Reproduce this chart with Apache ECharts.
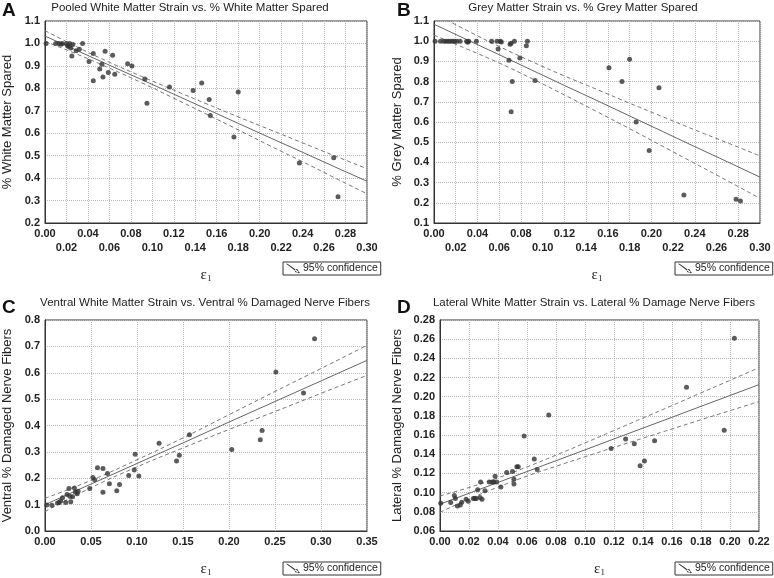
<!DOCTYPE html>
<html>
<head>
<meta charset="utf-8">
<script src="https://cdn.jsdelivr.net/npm/echarts@6/dist/echarts.min.js"></script>
<style>
  html, body { margin: 0; padding: 0; background: #fff; }
  #chart { width: 774px; height: 578px; }
</style>
</head>
<body>
<div id="chart"></div>
<script>
  // A: pooled white matter strain vs % white matter spared
  const strainA = [0.001, 0.010, 0.013, 0.015, 0.016, 0.020, 0.021, 0.022, 0.023, 0.024, 0.026, 0.025, 0.029, 0.032, 0.035,
    0.041, 0.045, 0.045, 0.051, 0.053, 0.054, 0.056, 0.059, 0.063, 0.065, 0.077, 0.081, 0.093, 0.095, 0.116, 0.138,
    0.146, 0.153, 0.154, 0.176, 0.180, 0.237, 0.269, 0.273]
  const sparedA = [1.000, 1.000, 1.000, 0.996, 1.000, 1.000, 0.990, 0.986, 1.000, 0.980, 0.995, 0.944, 0.968, 0.974, 1.000,
    0.920, 0.955, 0.834, 0.886, 0.907, 0.850, 0.965, 0.870, 0.947, 0.863, 0.909, 0.900, 0.842, 0.734, 0.806, 0.790,
    0.824, 0.750, 0.679, 0.583, 0.784, 0.467, 0.491, 0.317]
  const fitXA = [0, 0.03, 0.06, 0.09, 0.12, 0.15, 0.18, 0.21, 0.24, 0.27, 0.30]
  const fitA = [1.033, 0.968, 0.903, 0.839, 0.774, 0.709, 0.644, 0.579, 0.515, 0.450, 0.386]
  const upperA = [1.057, 0.984, 0.916, 0.853, 0.792, 0.732, 0.673, 0.615, 0.557, 0.499, 0.442]
  const lowerA = [1.009, 0.952, 0.890, 0.825, 0.756, 0.686, 0.615, 0.543, 0.473, 0.401, 0.330]

  // B: grey matter strain vs % grey matter spared
  const strainB = [0.001, 0.006, 0.009, 0.011, 0.013, 0.015, 0.017, 0.019, 0.021, 0.024, 0.030, 0.031, 0.032, 0.039,
    0.053, 0.058, 0.059, 0.061, 0.062, 0.069, 0.070, 0.071, 0.072, 0.071, 0.074, 0.079, 0.085, 0.086, 0.093,
    0.161, 0.173, 0.180, 0.186, 0.198, 0.207, 0.230, 0.278, 0.282]
  const sparedB = [1.000, 1.000, 1.000, 1.000, 1.000, 1.000, 1.000, 1.000, 1.000, 1.000, 1.000, 0.995, 1.000, 1.000,
    1.000, 1.000, 0.962, 1.000, 0.996, 0.906, 0.985, 0.990, 0.800, 0.651, 1.000, 0.917, 0.977, 1.000, 0.806,
    0.868, 0.800, 0.911, 0.600, 0.459, 0.769, 0.238, 0.218, 0.209]
  const fitXB = [0, 0.03, 0.06, 0.09, 0.12, 0.15, 0.18, 0.21, 0.24, 0.27, 0.30]
  const fitB = [1.084, 1.008, 0.933, 0.857, 0.781, 0.706, 0.630, 0.554, 0.478, 0.403, 0.327]
  const upperB = [1.138, 1.054, 0.974, 0.899, 0.828, 0.761, 0.693, 0.627, 0.561, 0.497, 0.432]
  const lowerB = [1.030, 0.962, 0.892, 0.815, 0.734, 0.651, 0.567, 0.481, 0.395, 0.309, 0.222]

  // C: ventral white matter strain vs ventral % damaged nerve fibers
  const strainC = [0.002, 0.0075, 0.0136, 0.0154, 0.017, 0.019, 0.0225, 0.024, 0.026, 0.027, 0.028, 0.030, 0.032, 0.033,
    0.035, 0.036, 0.0486, 0.052, 0.054, 0.057, 0.063, 0.063, 0.068, 0.070, 0.078, 0.081, 0.091, 0.097, 0.098, 0.102,
    0.124, 0.143, 0.146, 0.157, 0.203, 0.234, 0.236, 0.251, 0.281, 0.293]
  const damagedC = [0.099, 0.098, 0.106, 0.108, 0.114, 0.126, 0.108, 0.138, 0.161, 0.132, 0.111, 0.130, 0.163, 0.148,
    0.141, 0.151, 0.161, 0.203, 0.194, 0.240, 0.237, 0.147, 0.218, 0.179, 0.153, 0.176, 0.210, 0.231, 0.291, 0.209,
    0.333, 0.265, 0.287, 0.365, 0.309, 0.346, 0.381, 0.603, 0.523, 0.729]
  const fitXC = [0, 0.05, 0.10, 0.15, 0.20, 0.25, 0.30, 0.35]
  const fitC = [0.100, 0.178, 0.256, 0.334, 0.413, 0.491, 0.569, 0.647]
  const upperC = [0.124, 0.192, 0.270, 0.353, 0.441, 0.529, 0.616, 0.704]
  const lowerC = [0.074, 0.164, 0.243, 0.315, 0.385, 0.453, 0.522, 0.590]

  // D: lateral white matter strain vs lateral % damage nerve fibers
  const strainD = [0.0005, 0.0074, 0.0099, 0.0106, 0.012, 0.014, 0.015, 0.018, 0.0195, 0.023, 0.024, 0.025, 0.026, 0.028,
    0.0276, 0.029, 0.031, 0.034, 0.036, 0.037, 0.039, 0.038, 0.042, 0.046, 0.050, 0.051, 0.051, 0.053, 0.054,
    0.058, 0.065, 0.067, 0.075, 0.118, 0.128, 0.134, 0.138, 0.141, 0.148, 0.170, 0.196, 0.203]
  const damagedD = [0.089, 0.0897, 0.097, 0.094, 0.086, 0.087, 0.090, 0.093, 0.091, 0.094, 0.094, 0.094, 0.103, 0.111,
    0.095, 0.093, 0.102, 0.111, 0.111, 0.111, 0.111, 0.117, 0.106, 0.121, 0.122, 0.114, 0.109, 0.127, 0.127,
    0.159, 0.135, 0.124, 0.181, 0.146, 0.156, 0.151, 0.128, 0.133, 0.154, 0.210, 0.165, 0.261]
  const fitXD = [0, 0.02, 0.04, 0.06, 0.08, 0.10, 0.12, 0.14, 0.16, 0.18, 0.20, 0.22]
  const fitD = [0.088, 0.0993, 0.1106, 0.122, 0.1333, 0.1446, 0.156, 0.1673, 0.1786, 0.19, 0.2013, 0.2126]
  const upperD = [0.0965, 0.1053, 0.1154, 0.1268, 0.1391, 0.1518, 0.1648, 0.1778, 0.1908, 0.2040, 0.2171, 0.2303]
  const lowerD = [0.0795, 0.0933, 0.1058, 0.1172, 0.1275, 0.1374, 0.1472, 0.1568, 0.1664, 0.1760, 0.1855, 0.1949]

  const titles = [
    'Pooled White Matter Strain vs. % White Matter Spared',
    'Grey Matter Strain vs. % Grey Matter Spared',
    'Ventral White Matter Strain vs. Ventral % Damaged Nerve Fibers',
    'Lateral White Matter Strain vs. Lateral % Damage Nerve Fibers'
  ]
  const yNames = ['% White Matter Spared', '% Grey Matter Spared', 'Ventral % Damaged Nerve Fibers', 'Lateral % Damaged Nerve Fibers']

  const font = 'Liberation Sans'
  const zip = (a, b) => a.map((v, i) => [v, b[i]])
  const confName = '95% confidence'

  const grids = [
    { left: 41, top: 21, right: 407, bottom: 355 },
    { left: 434, top: 21, right: 14, bottom: 355 },
    { left: 41, top: 320, right: 407, bottom: 43 },
    { left: 440, top: 320, right: 15, bottom: 43 }
  ]

  function xAxis(i, max, interval, stagger, gap) {
    return {
      type: 'value', gridIndex: i, min: 0, max: max, interval: interval,
      name: '{e|ε}{s|1}', nameLocation: 'middle', nameGap: gap,
      nameTextStyle: {
        rich: {
          e: { fontSize: 15, fontFamily: 'Liberation Serif', color: '#222', lineHeight: 16 },
          s: { fontSize: 9, fontFamily: 'Liberation Serif', color: '#222', lineHeight: 16, verticalAlign: 'bottom' }
        }
      },
      axisLine: { lineStyle: { color: '#333' } },
      axisTick: { show: false },
      axisLabel: {
        margin: 4, fontSize: 11, fontWeight: 'bold', color: '#222', fontFamily: font, lineHeight: 14,
        showMinLabel: true, showMaxLabel: true,
        formatter: (v, idx) => (stagger && idx % 2 ? '\n' : '') + v.toFixed(2)
      },
      splitLine: { lineStyle: { color: '#bbb', type: 'dotted' } }
    }
  }

  function yAxis(i, min, max, interval, digits, gap) {
    return {
      type: 'value', gridIndex: i, min: min, max: max, interval: interval,
      name: yNames[i], nameLocation: 'middle', nameGap: gap,
      nameTextStyle: { fontSize: 13, color: '#222', fontFamily: font },
      axisLine: { lineStyle: { color: '#333' } },
      axisTick: { show: false },
      axisLabel: {
        margin: 5, fontSize: 11, fontWeight: 'bold', color: '#222', fontFamily: font,
        formatter: v => v.toFixed(digits)
      },
      splitLine: { lineStyle: { color: '#bbb', type: 'dotted' } }
    }
  }

  function panelSeries(i, xs, ys, fx, fit, up, lo) {
    return [
      { type: 'scatter', xAxisIndex: i, yAxisIndex: i, data: zip(xs, ys), symbolSize: 5, itemStyle: { color: '#333' }, z: 5 },
      { type: 'line', xAxisIndex: i, yAxisIndex: i, data: zip(fx, fit), showSymbol: false, lineStyle: { color: '#666', width: 1 }, itemStyle: { color: '#666' } },
      { name: confName, type: 'line', xAxisIndex: i, yAxisIndex: i, data: zip(fx, up), smooth: true, showSymbol: false, lineStyle: { color: '#777', width: 1, type: [4, 3] }, itemStyle: { color: '#333' } },
      { name: confName, type: 'line', xAxisIndex: i, yAxisIndex: i, data: zip(fx, lo), smooth: true, showSymbol: false, lineStyle: { color: '#777', width: 1, type: [4, 3] }, itemStyle: { color: '#333' } }
    ]
  }

  const legendPos = [[283, 262], [675, 262], [283, 562], [675, 562]]
  const legends = legendPos.map(p => ({
    data: [confName], left: p[0], top: p[1],
    orient: 'horizontal', selectedMode: false,
    borderColor: '#333', borderWidth: 1, padding: [1, 3, 1, 3],
    itemWidth: 14, itemHeight: 10, itemGap: 2,
    icon: 'path://M0,0L1.6,0L16,10L14.4,11Z M10,8.2a2,2 0 1,0 4,0a2,2 0 1,0 -4,0Z',
    itemStyle: { color: '#333', borderWidth: 0 },
    textStyle: { fontSize: 10.5, color: '#222', fontFamily: font, padding: [0, 0, 0, -2] }
  }))

  const letterPos = [[2, 1], [397, 1], [2, 298], [397, 298]]
  const titleCenters = [[190, 2], [583, 2], [205, 297], [594, 297]]
  const titleList = []
  'ABCD'.split('').forEach((l, i) => {
    titleList.push({ text: l, left: letterPos[i][0], top: letterPos[i][1], padding: 0,
      textStyle: { fontSize: 19, fontWeight: 'bold', color: '#111', fontFamily: font } })
    titleList.push({ text: titles[i], left: titleCenters[i][0], top: titleCenters[i][1], textAlign: 'center', padding: 0,
      textStyle: { fontSize: 11.5, fontWeight: 'normal', color: '#222', fontFamily: font } })
  })

  const myChart = echarts.init(document.getElementById('chart'))
  myChart.setOption({
    animation: false,
    backgroundColor: '#fff',
    title: titleList,
    legend: legends,
    grid: grids.map(g => Object.assign({ show: true, borderColor: '#333', borderWidth: 1 }, g)),
    xAxis: [
      xAxis(0, 0.30, 0.02, true, 44),
      xAxis(1, 0.30, 0.02, true, 44),
      xAxis(2, 0.35, 0.05, false, 30),
      xAxis(3, 0.22, 0.02, false, 30)
    ],
    yAxis: [
      yAxis(0, 0.2, 1.1, 0.1, 1, 31),
      yAxis(1, 0.1, 1.1, 0.1, 1, 30),
      yAxis(2, 0, 0.8, 0.1, 1, 31),
      yAxis(3, 0.06, 0.28, 0.02, 2, 36)
    ],
    series: [].concat(
      panelSeries(0, strainA, sparedA, fitXA, fitA, upperA, lowerA),
      panelSeries(1, strainB, sparedB, fitXB, fitB, upperB, lowerB),
      panelSeries(2, strainC, damagedC, fitXC, fitC, upperC, lowerC),
      panelSeries(3, strainD, damagedD, fitXD, fitD, upperD, lowerD)
    )
  })
</script>
</body>
</html>
